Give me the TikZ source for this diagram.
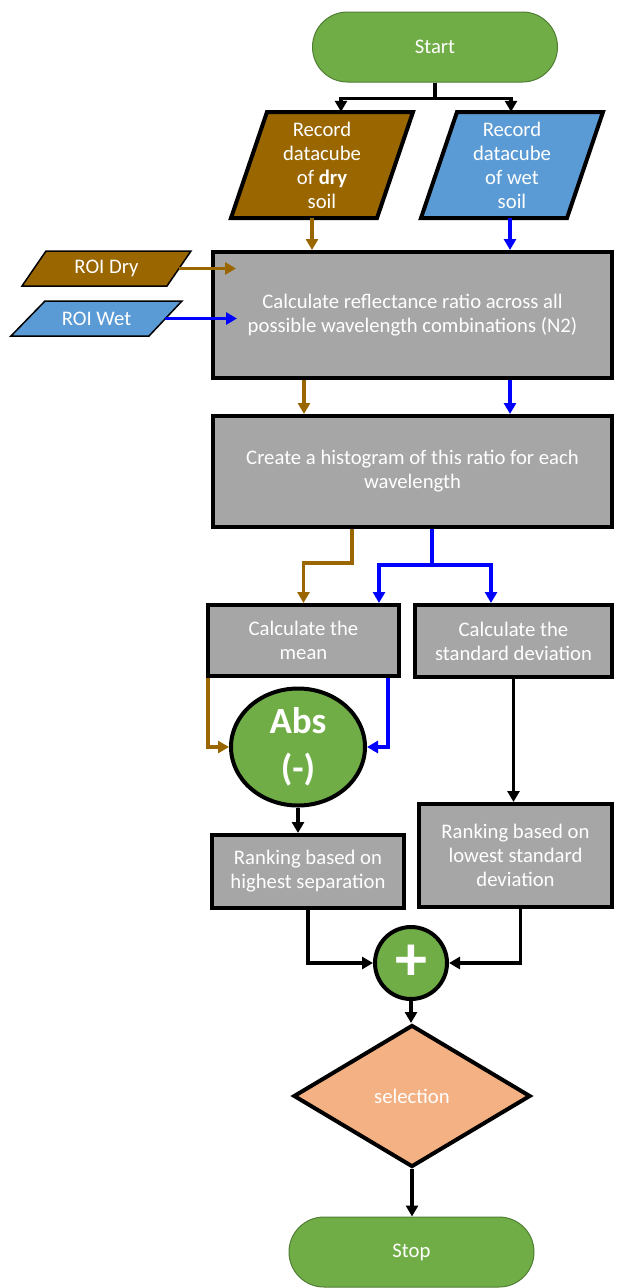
\documentclass[tikz,border=0pt]{standalone}
\usepackage{fontspec}
\setmainfont{Carlito}
\usetikzlibrary{positioning,calc,arrows.meta,shapes.geometric}

\definecolor{termgreen}{HTML}{70AD47}
\definecolor{termedge}{HTML}{507E32}
\definecolor{drybrown}{HTML}{996600}
\definecolor{wetblue}{HTML}{5B9BD5}
\definecolor{boxgray}{HTML}{A6A6A6}
\definecolor{selorange}{HTML}{F4B183}
\definecolor{arrowblue}{HTML}{0000FF}

\tikzset{
	terminal/.style={rectangle, rounded corners=35pt, fill=termgreen, draw=termedge, line width=1pt, minimum width=245pt, minimum height=70pt, text=white},
	process/.style={rectangle, fill=boxgray, draw=black, line width=4pt, text=white, align=center, inner sep=0pt},
	datatext/.style={text=white, align=center, inner sep=0pt},
	flow/.style={line width=3.8pt, ->},
}

\begin{document}
\begin{tikzpicture}[x=1pt, y=-1pt, line join=miter, >={Triangle[length=11pt,width=12pt]}, font=\fontsize{20.7}{24}\selectfont]
		\useasboundingbox[fill=white] (0,0) rectangle (619,1288);
		% terminals
		\node[terminal] (start) at (435,47) {Start};
		\node[terminal] (stop) at (411.5,1252) {Stop};
		% data cubes
		\draw [fill=drybrown, line width=4pt] (267,112) -- (413,112) -- (377,218) -- (231,218) -- cycle;
		\draw [fill=wetblue, line width=4pt] (457,112) -- (603,112) -- (567,218) -- (421,218) -- cycle;
		\node[datatext, minimum width=182pt, minimum height=106pt] (dry) at (322,165) {Record\\datacube\\of \textbf{dry}\\soil};
		\node[datatext, minimum width=182pt, minimum height=106pt] (wet) at (512,165) {Record\\datacube\\of wet\\soil};
		% regions of interest
		\draw [fill=drybrown, line width=1.5pt] (46,251) -- (191,251) -- (167,286) -- (22,286) -- cycle;
		\draw [fill=wetblue, line width=1.5pt] (45,301) -- (182,301) -- (149,336) -- (11,336) -- cycle;
		\node[datatext, minimum width=169pt, minimum height=35pt] (roidry) at (106.5,268.5) {ROI Dry};
		\node[datatext, minimum width=171pt, minimum height=35pt] (roiwet) at (96.5,318.5) {ROI Wet};
		% processing
		\node[process, minimum width=399pt, minimum height=126pt] (ratio) at (412.5,315) {Calculate reflectance ratio across all\\possible wavelength combinations (N2)};
		\node[process, minimum width=399pt, minimum height=111pt] (hist) at (412.5,471.5) {Create a histogram of this ratio for each\\wavelength};
		\node[process, minimum width=191pt, minimum height=71pt] (mean) at (303.5,640.5) {Calculate the\\mean};
		\node[process, minimum width=197pt, minimum height=72pt] (std) at (513.5,641) {Calculate the\\standard deviation};
		\node[ellipse, fill=termgreen, draw=black, line width=4pt, minimum width=134pt, minimum height=117pt, inner sep=0pt, text=white, align=center, font={\fontsize{37}{47}\selectfont\bfseries}] (abs) at (298,747) {Abs\\(-)};
		\node[process, minimum width=192pt, minimum height=73pt] (rank1) at (308,871.5) {Ranking based on\\highest separation};
		\node[process, minimum width=193pt, minimum height=103pt] (rank2) at (515.5,855.5) {Ranking based on\\lowest standard\\deviation};
		\node[circle, fill=termgreen, draw=black, line width=4pt, minimum size=72pt, inner sep=0pt, text=white, font={\fontsize{64}{64}\selectfont\bfseries}] (plus) at (411,963) {+};
		\node[diamond, fill=selorange, draw=black, line width=4pt, minimum width=237pt, minimum height=142pt, inner sep=0pt, text=white] (select) at (412,1096) {selection};
		% connectors
		\draw [line width=3.8pt] (start.south) -- ++(0,16) coordinate (startsplit);
		\draw [flow] (startsplit) -| ($(dry.north)+(19,0)$);
		\draw [flow] (startsplit) -| ($(wet.north)+(-1,0)$);
		\draw [flow, drybrown] ($(dry.south)+(-10,0)$) -- ($(ratio.north)+(-100.5,0)$);
		\draw [flow, arrowblue] ($(wet.south)+(-2,0)$) -- ($(ratio.north)+(97.5,0)$);
		\draw [flow, drybrown] ($(roidry.east)+(-12,0)$) -- ($(roidry.east -| ratio.west)+(25,0)$);
		\draw [flow, arrowblue] ($(roiwet.east)+(-17,0)$) -- ($(roiwet.east -| ratio.west)+(26,0)$);
		\draw [flow, drybrown] ($(ratio.south)+(-108.5,0)$) -- ($(hist.north)+(-108.5,0)$);
		\draw [flow, arrowblue] ($(ratio.south)+(97.5,0)$) -- ($(hist.north)+(97.5,0)$);
		\draw [flow, drybrown] ($(hist.south)+(-60.5,0)$) -- ++(0,34) -| (mean.north);
		\draw [line width=3.8pt, arrowblue] ($(hist.south)+(19.5,0)$) -- ++(0,36) coordinate (bluesplit);
		\draw [flow, arrowblue] (bluesplit) -| ($(mean.north)+(75.5,0)$);
		\draw [flow, arrowblue] (bluesplit) -| ($(std.north)+(-22.5,0)$);
		\draw [flow, drybrown] ($(mean.south west)+(2,0)$) |- (abs.west);
		\draw [flow, arrowblue] ($(mean.south east)+(-13,0)$) |- (abs.east);
		\draw [flow] (abs.south) -- (abs.south |- rank1.north);
		\draw [flow] (std.south) -- (std.south |- rank2.north);
		\draw [flow] (rank1.south) |- (plus.west);
		\draw [flow] ($(rank2.south)+(5,0)$) |- (plus.east);
		\draw [flow] (plus.south) -- (plus.south |- select.north);
		\draw [flow] (select.south) -- (select.south |- stop.north);
	\end{tikzpicture}
\end{document}
